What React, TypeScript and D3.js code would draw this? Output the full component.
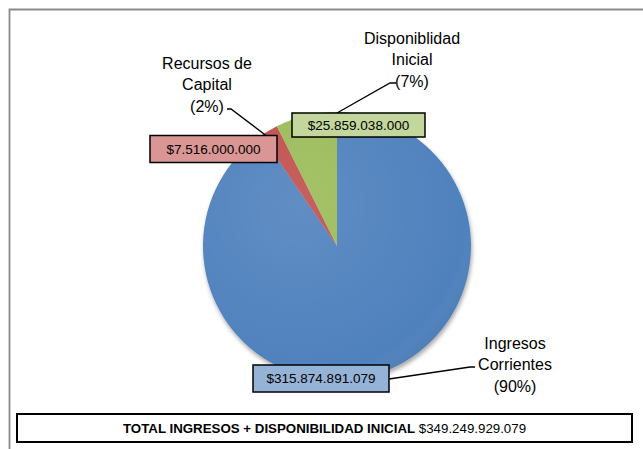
import React from "react";
import * as d3 from "d3";

// datos
const categories = ["Ingresos Corrientes", "Recursos de Capital", "Disponiblidad Inicial"];
const values = [315874891079, 7516000000, 25859038000];
const nameLines = [
  ["Ingresos", "Corrientes"],
  ["Recursos de", "Capital"],
  ["Disponiblidad", "Inicial"],
];
const totalLabel = "TOTAL INGRESOS + DISPONIBILIDAD INICIAL";

const sliceColors = ["#4F81BD", "#C0504D", "#9BBB59"];
const boxColors = ["#95B3D7", "#D99694", "#C3D69B"];

// where each label sits (box centre, text centre, elbow of the leader)
const boxPos = [
  { x: 321, y: 378.5, w: 136, h: 27 },
  { x: 213.5, y: 149, w: 127, h: 27 },
  { x: 358.5, y: 125, w: 133, h: 24 },
];
const namePos = [
  { x: 515, y: 343 },
  { x: 207, y: 63 },
  { x: 412, y: 38 },
];
const elbows = [
  { start: [389, 379], bend: [470, 367], end: [475, 367] },
  { start: [266, 135.5], bend: [231, 109], end: [227, 109] },
  { start: [337, 113], bend: [390, 83], end: [396, 83] },
];

const W = 643;
const H = 449;
const cx = 337;
const cy = 246;
const radius = 134;

const locale = d3.formatLocale({ decimal: ",", thousands: ".", grouping: [3], currency: ["$", ""] });
const money = locale.format("$,.0f");
const pct = d3.format(".0%");

const font = "Liberation Sans, Arial, sans-serif";

const App = () => {
  const total = d3.sum(values);
  const pie = d3
    .pie<number>()
    .value(d => d)
    .sort(null);
  const arcs = pie(values);
  const arc = d3.arc<d3.PieArcDatum<number>>().innerRadius(0).outerRadius(radius);
  const line = d3.line();

  return (
    <svg width={W} height={H} style={{ position: "absolute", left: 0, top: 0, background: "#fff" }}>
      <defs>
        <radialGradient id="shade" cx="0.35" cy="0.35" r="0.75">
          <stop offset="0" stopColor="#fff" stopOpacity={0.1} />
          <stop offset="0.85" stopColor="#fff" stopOpacity={0} />
          <stop offset="1" stopColor="#000" stopOpacity={0.12} />
        </radialGradient>
        <filter id="drop" x="-20%" y="-20%" width="140%" height="140%">
          <feDropShadow dx="1" dy="3" stdDeviation="2" floodColor="#000" floodOpacity="0.35" />
        </filter>
      </defs>

      {/* marco del grafico */}
      <path d={`M9.5,${H + 2}V9.5H${W + 2}`} fill="none" stroke="#8a8a8a" strokeWidth={1.8} />

      <g transform={`translate(${cx},${cy})`}>
        <g filter="url(#drop)">
          {arcs.map((d, i) => (
            <path key={categories[i]} d={arc(d) || ""} fill={sliceColors[i]} />
          ))}
        </g>
        <circle r={radius} fill="url(#shade)" />
      </g>

      {arcs.map((d, i) => {
        const e = elbows[i];
        return (
          <path
            key={"l" + i}
            d={line([e.start as [number, number], e.bend as [number, number], e.end as [number, number]]) || ""}
            fill="none"
            stroke="#000"
            strokeWidth={1.3}
          />
        );
      })}

      {arcs.map((d, i) => {
        const b = boxPos[i];
        const n = namePos[i];
        const lines = [...nameLines[i], `(${pct(d.value / total)})`];
        return (
          <g key={"lab" + i}>
            <rect
              x={b.x - b.w / 2}
              y={b.y - b.h / 2}
              width={b.w}
              height={b.h}
              fill={boxColors[i]}
              stroke="#000"
              strokeWidth={1.5}
            />
            <text
              x={b.x}
              y={b.y}
              textAnchor="middle"
              dominantBaseline="central"
              fontFamily={font}
              fontSize={13.5}
              fill="#000"
            >
              {money(d.value)}
            </text>
            <text textAnchor="middle" fontFamily={font} fontSize={16} fill="#000">
              {lines.map((t, j) => (
                <tspan key={j} x={n.x} y={n.y + j * 21.5} dominantBaseline="central">
                  {t}
                </tspan>
              ))}
            </text>
          </g>
        );
      })}

      {/* total */}
      <rect x={17} y={414} width={615} height={28} fill="#fff" stroke="#000" strokeWidth={2} />
      <text x={324.5} y={428} textAnchor="middle" dominantBaseline="central" fontFamily={font} fontSize={13.3} fill="#000">
        <tspan fontWeight="bold">{totalLabel}</tspan>
        <tspan> {money(total)}</tspan>
      </text>
    </svg>
  );
};

export default App;
